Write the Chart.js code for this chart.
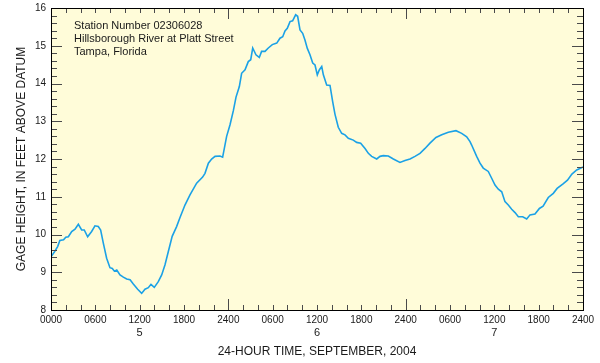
<!DOCTYPE html>
<html>
<head>
<meta charset="utf-8">
<script src="https://cdn.jsdelivr.net/npm/chart.js@4/dist/chart.umd.min.js"></script>
<style>
  html, body { margin: 0; padding: 0; background: #fff; }
  #wrap { width: 600px; height: 363px; }
</style>
</head>
<body>
<div id="wrap"><canvas id="gageChart" width="600" height="363"></canvas></div>
<script>
// Data (hours since 0000 Sept 5, feet)
const hours = [0, 0.5, 0.9, 1.2, 1.7, 2.0, 2.35, 2.8, 3.25, 3.7, 4.15, 4.5, 4.96, 5.5, 5.95, 6.4, 6.72, 7.08, 7.53, 7.98,
  8.3, 8.57, 8.9, 9.34, 9.79, 10.24, 10.7, 11.14, 11.73, 12.27, 12.72, 13.17, 13.53, 13.98, 14.52, 14.98, 15.43, 15.88, 16.4, 17.0,
  17.46, 18.13, 18.81, 19.71, 20.52, 20.84, 21.3, 21.74, 22.2, 22.87, 23.23, 23.77, 24.22, 24.68, 25.04, 25.49, 25.8, 26.26, 26.7, 27.03,
  27.3, 27.74, 28.19, 28.5, 28.96, 29.41, 29.95, 30.55, 30.99, 31.36, 31.67, 31.98, 32.35, 32.7, 33.11, 33.38, 33.7, 34.06, 34.37, 34.69,
  35.05, 35.42, 35.73, 36.04, 36.31, 36.64, 36.86, 37.31, 37.76, 38.12, 38.43, 38.88, 39.34, 39.79, 40.24, 40.91, 41.37, 41.91, 42.5, 42.95,
  43.4, 44.08, 44.53, 44.97, 45.65, 46.33, 47.23, 47.91, 48.59, 49.26, 49.94, 50.62, 51.29, 52.1, 52.88, 53.77, 54.81, 55.58, 56.26, 56.71,
  56.93, 57.61, 58.06, 58.5, 59.18, 59.64, 60.09, 60.54, 61.0, 61.44, 61.89, 62.35, 62.8, 63.25, 63.84, 64.38, 64.83, 65.5, 66.1, 66.6,
  67.3, 67.98, 68.5, 69.3, 69.9, 70.5, 71.15, 71.8, 72];
const gageHeight = [9.41, 9.55, 9.68, 9.84, 9.86, 9.93, 9.94, 10.08, 10.14, 10.27, 10.12, 10.12, 9.94, 10.08, 10.23, 10.21, 10.12, 9.77, 9.37, 9.12,
  9.10, 9.03, 9.06, 8.93, 8.87, 8.82, 8.80, 8.69, 8.55, 8.44, 8.55, 8.59, 8.68, 8.60, 8.75, 8.93, 9.20, 9.55, 9.95, 10.21,
  10.45, 10.78, 11.05, 11.36, 11.52, 11.62, 11.89, 12.00, 12.07, 12.08, 12.05, 12.60, 12.90, 13.28, 13.64, 13.92, 14.27, 14.36, 14.58, 14.63,
  14.94, 14.76, 14.69, 14.85, 14.85, 14.94, 15.03, 15.07, 15.20, 15.24, 15.39, 15.46, 15.64, 15.66, 15.82, 15.78, 15.42, 15.33, 15.15, 14.93,
  14.76, 14.54, 14.49, 14.23, 14.36, 14.45, 14.23, 13.96, 13.95, 13.52, 13.19, 12.84, 12.68, 12.64, 12.55, 12.50, 12.44, 12.42, 12.28, 12.15,
  12.07, 12.00, 12.07, 12.09, 12.08, 12.00, 11.91, 11.96, 12.00, 12.07, 12.15, 12.28, 12.42, 12.57, 12.64, 12.71, 12.75, 12.68, 12.59, 12.46,
  12.37, 12.07, 11.89, 11.76, 11.67, 11.49, 11.31, 11.20, 11.13, 10.87, 10.78, 10.67, 10.58, 10.47, 10.47, 10.41, 10.52, 10.54, 10.69, 10.75,
  10.98, 11.09, 11.22, 11.34, 11.44, 11.60, 11.71, 11.77, 11.79];

// Axis labels
const timeTicks = [0, 6, 12, 18, 24, 30, 36, 42, 48, 54, 60, 66, 72];
const timeLabels = ['0000', '0600', '1200', '1800', '2400', '0600', '1200', '1800', '2400', '0600', '1200', '1800', '2400'];
const dayTicks = [12, 36, 60];
const dayLabels = ['5', '6', '7'];
const heightTicks = [8, 9, 10, 11, 12, 13, 14, 15, 16];
const stationText = ['Station Number 02306028', 'Hillsborough River at Platt Street', 'Tampa, Florida'];

const FONT = '"Liberation Sans", Arial, Helvetica, sans-serif';

const points = hours.map((h, i) => ({ x: h, y: gageHeight[i] }));

// Paints the pale yellow plot box
const plotBackground = {
    id: 'plotBackground',
    beforeDraw(chart) {
        const { ctx, chartArea: a } = chart;
        ctx.save();
        ctx.fillStyle = '#fffcd9';
        ctx.fillRect(a.left, a.top, a.right - a.left, a.bottom - a.top);
        ctx.restore();
    }
};

// Frame, inward ticks, labels and titles
const usgsAxes = {
    id: 'usgsAxes',
    afterDraw(chart) {
        const { ctx, chartArea: a, scales } = chart;
        const xs = scales.x, ys = scales.y;
        const crisp = v => Math.round(v) + 0.5;
        ctx.save();

        ctx.strokeStyle = '#4a4a4a';
        ctx.lineWidth = 1;
        ctx.beginPath();
        // x ticks every 2 hours, longer at day boundaries
        for (let h = 2; h < 72; h += 2) {
            const px = crisp(xs.getPixelForValue(h));
            const len = (h % 24 === 0) ? 11 : 5;
            ctx.moveTo(px, a.bottom); ctx.lineTo(px, a.bottom - len);
            ctx.moveTo(px, a.top); ctx.lineTo(px, a.top + len);
        }
        // y ticks every 0.2 ft, longer at whole feet
        for (let i = 1; i < 40; i++) {
            const v = 8 + i * 0.2;
            const py = crisp(ys.getPixelForValue(v));
            const len = (i % 5 === 0) ? 11 : 6;
            ctx.moveTo(a.left, py); ctx.lineTo(a.left + len, py);
            ctx.moveTo(a.right, py); ctx.lineTo(a.right - len, py);
        }
        ctx.stroke();

        ctx.strokeStyle = '#000';
        ctx.strokeRect(crisp(a.left), crisp(a.top), Math.round(a.right - a.left), Math.round(a.bottom - a.top));

        ctx.fillStyle = '#1a1a1a';
        ctx.font = '10px ' + FONT;
        ctx.textAlign = 'center';
        ctx.textBaseline = 'middle';
        timeTicks.forEach((h, i) => ctx.fillText(timeLabels[i], xs.getPixelForValue(h), a.bottom + 10));

        ctx.font = '11px ' + FONT;
        dayTicks.forEach((h, i) => ctx.fillText(dayLabels[i], xs.getPixelForValue(h), a.bottom + 23));

        ctx.font = '10px ' + FONT;
        ctx.textAlign = 'right';
        heightTicks.forEach(v => ctx.fillText(String(v), a.left - 5, ys.getPixelForValue(v)));

        ctx.font = '12px ' + FONT;
        ctx.textAlign = 'center';
        ctx.fillText('24-HOUR TIME, SEPTEMBER, 2004', (a.left + a.right) / 2, a.bottom + 42);

        ctx.save();
        ctx.translate(22, (a.top + a.bottom) / 2);
        ctx.rotate(-Math.PI / 2);
        ctx.fillText('GAGE HEIGHT, IN FEET ABOVE DATUM', 0, 0);
        ctx.restore();

        ctx.font = '11px ' + FONT;
        ctx.textAlign = 'left';
        stationText.forEach((t, i) => ctx.fillText(t, a.left + 23, a.top + 18 + i * 13));

        ctx.restore();
    }
};

const chart = new Chart(document.getElementById('gageChart'), {
    type: 'line',
    data: {
        datasets: [{
            data: points,
            borderColor: '#1ba1e6',
            borderWidth: 1.6,
            pointRadius: 0,
            tension: 0,
            fill: false
        }]
    },
    options: {
        responsive: false,
        animation: false,
        events: [],
        layout: { padding: { left: 51, right: 17, top: 8, bottom: 53 } },
        plugins: { legend: { display: false }, tooltip: { enabled: false } },
        scales: {
            x: { type: 'linear', min: 0, max: 72, display: false },
            y: { type: 'linear', min: 8, max: 16, display: false }
        }
    },
    plugins: [plotBackground, usgsAxes]
});
</script>
</body>
</html>
